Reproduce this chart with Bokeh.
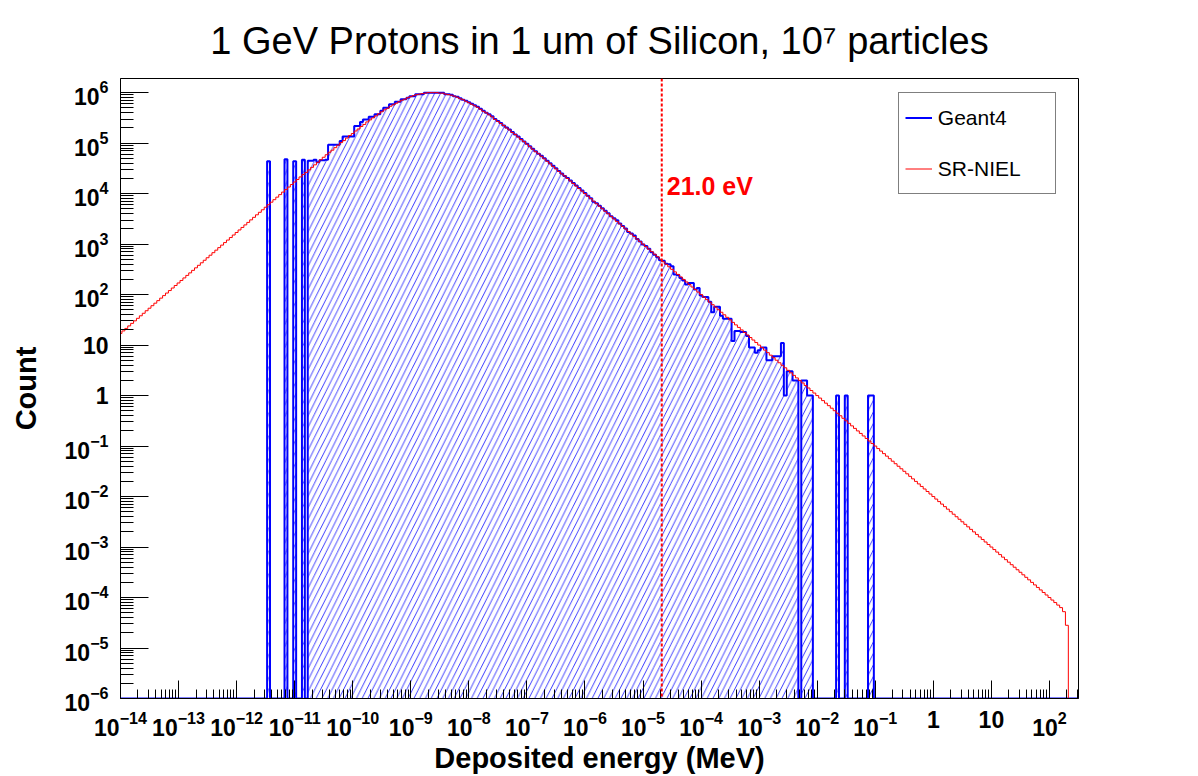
import numpy as np
from bokeh.plotting import figure
from bokeh.models import (FixedTicker, Span, Label, Legend, LegendItem, LogTickFormatter)
from bokeh.core.properties import value
from bokeh.embed import file_html
from bokeh.resources import INLINE

# ---------------- data ----------------
# log-spaced bins: 20 bins per decade, first lower edge at 10^-14.025 MeV
LOG_E_START = -14.025
LOG_E_STEP = 0.05
N_BINS = 331

# SR-NIEL prediction, log10(count) per bin starting at bin 0 (bins after are empty)
sr_niel_log10 = [
    1.23, 1.28, 1.33, 1.38, 1.43, 1.48, 1.53, 1.58, 1.63, 1.68, 1.73, 1.78, 1.83, 1.88, 1.93, 1.98, 2.03, 2.08, 2.13, 2.18,
    2.23, 2.28, 2.33, 2.38, 2.43, 2.48, 2.53, 2.58, 2.63, 2.68, 2.73, 2.78, 2.83, 2.88, 2.93, 2.98, 3.03, 3.08, 3.13, 3.18,
    3.23, 3.28, 3.33, 3.38, 3.43, 3.48, 3.53, 3.58, 3.63, 3.68, 3.73, 3.78, 3.83, 3.88, 3.93, 3.98, 4.03, 4.08, 4.13, 4.18,
    4.23, 4.28, 4.33, 4.38, 4.42, 4.47, 4.52, 4.57, 4.62, 4.67, 4.72, 4.77, 4.82, 4.86, 4.91, 4.96, 5.01, 5.05, 5.10, 5.15,
    5.19, 5.24, 5.28, 5.33, 5.37, 5.42, 5.46, 5.50, 5.54, 5.58, 5.62, 5.66, 5.69, 5.73, 5.76, 5.79, 5.82, 5.85, 5.87, 5.90,
    5.92, 5.94, 5.96, 5.97, 5.98, 5.99, 6.00, 6.00, 6.00, 6.00, 5.99, 5.99, 5.97, 5.96, 5.95, 5.93, 5.91, 5.88, 5.86, 5.83,
    5.80, 5.77, 5.74, 5.71, 5.67, 5.63, 5.60, 5.56, 5.52, 5.47, 5.43, 5.39, 5.35, 5.30, 5.26, 5.21, 5.17, 5.12, 5.07, 5.03,
    4.98, 4.93, 4.88, 4.83, 4.79, 4.74, 4.69, 4.64, 4.59, 4.54, 4.49, 4.44, 4.39, 4.35, 4.30, 4.25, 4.20, 4.15, 4.10, 4.05,
    4.00, 3.95, 3.90, 3.85, 3.80, 3.75, 3.70, 3.65, 3.60, 3.55, 3.50, 3.45, 3.40, 3.35, 3.30, 3.25, 3.20, 3.15, 3.10, 3.05,
    3.00, 2.95, 2.90, 2.85, 2.80, 2.75, 2.70, 2.65, 2.60, 2.55, 2.50, 2.45, 2.40, 2.35, 2.30, 2.25, 2.20, 2.15, 2.10, 2.05,
    2.00, 1.95, 1.90, 1.85, 1.80, 1.75, 1.70, 1.65, 1.60, 1.55, 1.50, 1.45, 1.40, 1.35, 1.30, 1.25, 1.20, 1.15, 1.10, 1.05,
    1.00, 0.95, 0.90, 0.85, 0.80, 0.75, 0.70, 0.65, 0.60, 0.55, 0.50, 0.45, 0.40, 0.35, 0.30, 0.25, 0.20, 0.15, 0.10, 0.05,
    0.00, -0.05, -0.10, -0.15, -0.20, -0.25, -0.30, -0.35, -0.40, -0.45, -0.50, -0.55, -0.60, -0.65, -0.70, -0.75, -0.80, -0.85, -0.90, -0.95,
    -1.00, -1.05, -1.10, -1.15, -1.20, -1.25, -1.30, -1.35, -1.40, -1.45, -1.50, -1.55, -1.60, -1.65, -1.70, -1.75, -1.80, -1.85, -1.90, -1.95,
    -2.00, -2.05, -2.10, -2.15, -2.20, -2.25, -2.30, -2.35, -2.40, -2.45, -2.50, -2.55, -2.60, -2.65, -2.70, -2.75, -2.80, -2.85, -2.90, -2.95,
    -3.00, -3.05, -3.10, -3.15, -3.20, -3.25, -3.30, -3.35, -3.40, -3.45, -3.50, -3.55, -3.60, -3.65, -3.70, -3.75, -3.80, -3.85, -3.90, -3.95,
    -4.00, -4.05, -4.10, -4.15, -4.20, -4.28, -4.55,
]

# Geant4 simulation, log10(count) per bin starting at bin 51 (None = empty bin)
geant4_first_bin = 51
geant4_log10 = [
    4.64, None, None, None, None, None,            # 51-56
    4.68, None, None,                              # 57-59
    4.64, None, None,                              # 60-62
    4.67, None,                                    # 63-64
    4.65, 4.65, 4.67, 4.62, 4.66, 4.66, 4.67,      # 65-71
    4.97, 4.97, 4.97, 4.97, 5.04, 5.13, 5.13, 5.13, 5.13,   # 72-80
    5.34, 5.34, 5.42, 5.47, 5.47, 5.52, 5.52, 5.57, 5.57,   # 81-89
    5.64, 5.70, 5.70, 5.77, 5.77, 5.82, 5.82, 5.87, 5.87, 5.90,
    5.93, 5.93, 5.97, 5.97, 5.97, 6.00, 6.00, 6.00, 6.00, 6.00,
    6.00, 6.00, 5.97, 5.97, 5.96, 5.93, 5.92, 5.89, 5.86, 5.84,
    5.81, 5.78, 5.75, 5.72, 5.68, 5.64, 5.60, 5.57, 5.53, 5.48,
    5.44, 5.40, 5.35, 5.31, 5.27, 5.22, 5.17, 5.13, 5.08, 5.03,
    4.99, 4.94, 4.89, 4.84, 4.79, 4.75, 4.70, 4.65, 4.60, 4.55,
    4.50, 4.45, 4.40, 4.35, 4.31, 4.26, 4.21, 4.16, 4.11, 4.06,
    4.01, 3.96, 3.91, 3.84, 3.81, 3.76, 3.71, 3.66, 3.61, 3.55,
    3.51, 3.47, 3.41, 3.36, 3.31, 3.24, 3.21, 3.17, 3.10, 3.05,
    2.99, 2.96, 2.91, 2.84, 2.79, 2.74, 2.68, 2.67, 2.61, 2.60,
    2.56, 2.40, 2.39, 2.33, 2.28, 2.20, 2.23, 2.23, 2.10, 2.13,
    1.98, 1.95, 1.95, 1.86, 1.65, 1.76, 1.76, 1.58, 1.52, 1.52,
    1.52, 1.08, 1.28, 1.28, 1.26, 1.26, 1.18, 0.95, 0.95, 0.85,
    0.90, 0.95, 0.95, 0.70, 0.70, 0.78, 0.78, 0.78, 1.04, 0.00,
    0.48, 0.48, 0.30, 0.30, None, 0.30, 0.30, 0.00, 0.00, None,
    None, None, None, None, None, None, None, 0.00, None, None,
    0.00, None, None, None, None, None, None, None, 0.00, 0.00,
]

threshold_mev = 2.1e-5           # 21.0 eV
threshold_text = "21.0 eV"

x_tick_exps = list(range(-14, 3))
y_tick_exps = list(range(-6, 7))
plain_tick_labels = {1: "1", 10: "10"}

title_text = "1 GeV Protons in 1 um of Silicon, 10\u2077 particles"
x_title = "Deposited energy (MeV)"
y_title = "Count"

# ---------------- derived arrays ----------------
x_lo, x_hi = 1e-14, 10 ** 2.5
y_lo, y_hi = 1e-6, 10 ** 6.28

edges = 10 ** (LOG_E_START + LOG_E_STEP * np.arange(N_BINS + 1))
edges = np.clip(edges, x_lo, x_hi)

red_vals = np.full(N_BINS, y_lo)
red_vals[:len(sr_niel_log10)] = 10 ** np.array(sr_niel_log10)

blue_vals = np.full(N_BINS, y_lo)
for i, v in enumerate(geant4_log10):
    if v is not None:
        blue_vals[geant4_first_bin + i] = 10 ** v


def step_xy(vals):
    xs = np.repeat(edges, 2)[1:-1]
    ys = np.repeat(vals, 2)
    xs = np.concatenate([[edges[0]], xs, [edges[-1]]])
    ys = np.concatenate([[y_lo], ys, [y_lo]])
    return xs, ys


bx, by = step_xy(blue_vals)
rx, ry = step_xy(red_vals)

FONT = "Liberation Sans"

# ---------------- figure ----------------
p = figure(width=1198, height=776, x_axis_type="log", y_axis_type="log",
           x_range=(x_lo, x_hi), y_range=(y_lo, y_hi),
           output_backend="svg", toolbar_location=None,
           min_border_left=120, min_border_right=120,
           min_border_top=78, min_border_bottom=78)
p.background_fill_color = "white"
p.border_fill_color = "white"
p.outline_line_color = "black"
p.outline_line_width = 1
p.grid.visible = False

p.title.text = title_text
p.title.text_font = FONT
p.title.text_font_style = "normal"
p.title.text_font_size = "38px"
p.title.text_color = "black"
p.title.align = "center"
p.title.standoff = 33

x_major = [10.0 ** e for e in x_tick_exps]
x_minor = [m * 10.0 ** e for e in range(-14, 3) for m in range(2, 10) if m * 10.0 ** e < x_hi]
y_major = [10.0 ** e for e in y_tick_exps]
y_minor = [m * 10.0 ** e for e in range(-6, 7) for m in range(2, 10) if m * 10.0 ** e < y_hi]

p.xaxis.ticker = FixedTicker(ticks=x_major, minor_ticks=x_minor)
p.yaxis.ticker = FixedTicker(ticks=y_major, minor_ticks=y_minor)
for ax, maj, mnr in ((p.xaxis, 18, 9), (p.yaxis, 28, 13)):
    ax.major_tick_in = maj
    ax.major_tick_out = 0
    ax.minor_tick_in = mnr
    ax.minor_tick_out = 0
    ax.major_tick_line_color = "black"
    ax.minor_tick_line_color = "black"
    ax.axis_line_color = "black"
    ax.formatter = LogTickFormatter()
    ax.major_label_overrides = plain_tick_labels
    ax.major_label_text_font = FONT
    ax.major_label_text_font_style = "bold"
    ax.major_label_text_font_size = "23px"
    ax.major_label_text_color = "black"
    ax.axis_label_text_font = FONT
    ax.axis_label_text_font_style = "bold"
    ax.axis_label_text_font_size = "29px"
    ax.axis_label_text_color = "black"

p.xaxis.major_label_standoff = 12
p.yaxis.major_label_standoff = 12
p.xaxis.axis_label = x_title
p.yaxis.axis_label = y_title
p.xaxis.axis_label_standoff = 3
p.yaxis.axis_label_standoff = 20

# hatched Geant4 area, Geant4 outline, SR-NIEL outline
p.varea(x=bx, y1=y_lo, y2=by, fill_alpha=0, hatch_pattern="/",
        hatch_color="blue", hatch_weight=0.75, hatch_scale=11.5)
blue_line = p.line(bx, by, line_color="blue", line_width=2)
red_line = p.line(rx, ry, line_color="red", line_width=1)

p.add_layout(Span(location=threshold_mev, dimension="height", line_color="red",
                  line_width=2, line_dash="3 2"))
p.add_layout(Label(x=threshold_mev, y=513, x_units="data", y_units="screen",
                   x_offset=5, text=threshold_text, text_color="red",
                   text_font=FONT, text_font_style="bold", text_font_size="25px",
                   text_align="left", text_baseline="alphabetic"))

# ---------------- legend ----------------
legend = Legend(items=[LegendItem(label=value("Geant4"), renderers=[blue_line]),
                       LegendItem(label=value("SR-NIEL"), renderers=[red_line])],
                location=(777.8, 503.7), orientation="vertical",
                padding=6, spacing=14, margin=0,
                glyph_width=27, glyph_height=37, label_height=37, label_width=111,
                label_standoff=6, label_text_font=FONT, label_text_font_size="21px",
                label_text_color="black",
                border_line_color="black", border_line_width=1,
                background_fill_color="white", background_fill_alpha=1)
p.add_layout(legend)

open("out.html", "w").write(file_html(p, INLINE))
